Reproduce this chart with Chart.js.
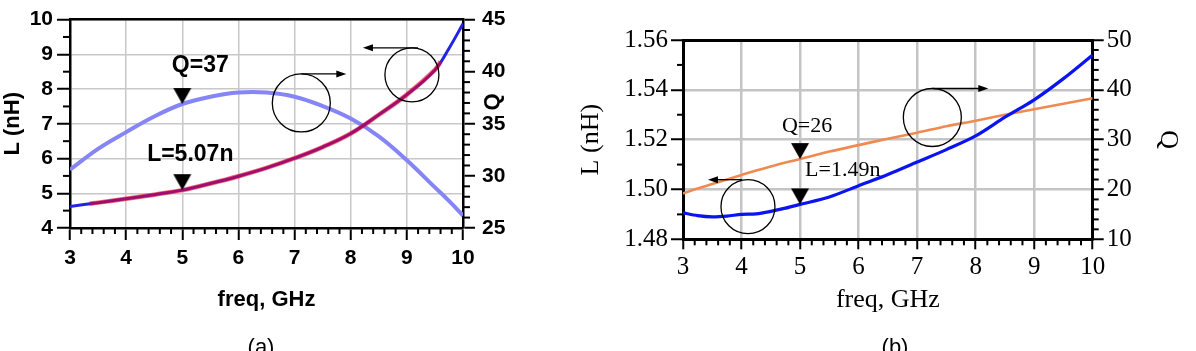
<!DOCTYPE html>
<html>
<head>
<meta charset="utf-8">
<script src="https://cdn.jsdelivr.net/npm/chart.js@4.4.1/dist/chart.umd.min.js"></script>
<style>
  html, body { margin: 0; padding: 0; background: #fff; }
  body { width: 1196px; height: 351px; position: relative; overflow: hidden; }
  #wrapA { position: absolute; left: 0; top: 0; width: 540px; height: 351px; }
  #wrapB { position: absolute; left: 560px; top: 0; width: 636px; height: 351px; }
  .caption { position: absolute; top: 334px; font: 22px "Liberation Sans", Arial, sans-serif; transform: translateX(-50%); }
</style>
</head>
<body>
<div id="wrapA"><canvas id="chartA"></canvas></div>
<div id="wrapB"><canvas id="chartB"></canvas></div>
<div class="caption" style="left:261px">(a)</div>
<div class="caption" style="left:895px">(b)</div>
<script>
// ---- (a) data ----
var freqA = [3, 3.5, 4, 4.5, 5, 5.5, 6, 6.5, 7, 7.5, 8, 8.5, 9, 9.5, 9.75, 10];
var qA = [30.6, 32.6, 34.2, 35.7, 36.9, 37.6, 38.0, 38.0, 37.6, 36.7, 35.5, 33.8, 31.5, 28.9, 27.6, 26.2];
var lA = [4.62, 4.73, 4.84, 4.96, 5.09, 5.28, 5.49, 5.73, 6.01, 6.33, 6.72, 7.26, 7.84, 8.55, 9.17, 9.88];
// simulated L (red), shorter range
var freqAsim = [3.35, 3.5, 4, 4.5, 5, 5.5, 6, 6.5, 7, 7.5, 8, 8.5, 9, 9.5, 9.6];
var lAsim = [4.70, 4.73, 4.84, 4.96, 5.09, 5.28, 5.49, 5.73, 6.01, 6.33, 6.72, 7.26, 7.84, 8.55, 8.79];

// ---- (b) data ----
var freqB = [3, 3.25, 3.5, 3.75, 4, 4.25, 4.5, 4.75, 5, 5.5, 6, 6.5, 7, 7.5, 8, 8.5, 9, 9.5, 10];
var lB = [1.4906, 1.4895, 1.4890, 1.4893, 1.4900, 1.4902, 1.4912, 1.4925, 1.4940, 1.4970, 1.5015, 1.5060, 1.5110, 1.5160, 1.5215, 1.5290, 1.5360, 1.5445, 1.5540];
var qB = [19.2, 20.2, 21.1, 22.0, 22.9, 23.8, 24.6, 25.4, 26.1, 27.6, 28.9, 30.2, 31.4, 32.7, 33.8, 35.0, 36.1, 37.2, 38.3];

var markFreq = 5;

var fontA = '"Liberation Sans", Arial, sans-serif';
var fontB = '"Liberation Serif", "Times New Roman", serif';

function isMajor(v, step) {
    var r = v / step;
    return Math.abs(r - Math.round(r)) < 1e-6;
}
function pts(xs, ys) {
    return xs.map(function (x, i) { return { x: x, y: ys[i] }; });
}
function valueAt(xs, ys, x) {
    return ys[xs.indexOf(x)];
}

// down triangle whose tip sits at the image centre
function makeMarker() {
    var c = document.createElement('canvas');
    c.width = 20; c.height = 34;
    var g = c.getContext('2d');
    g.fillStyle = '#000';
    g.beginPath(); g.moveTo(1, 1); g.lineTo(19, 1); g.lineTo(10, 17); g.closePath(); g.fill();
    return c;
}
var marker = makeMarker();

function axis(o) {
    var horiz = o.pos === 'bottom';
    return {
        type: 'linear', position: o.pos, min: o.min, max: o.max,
        afterFit: function (s) { if (horiz) s.height = o.size; else s.width = o.size; },
        ticks: {
            stepSize: o.minor, autoSkip: false, maxRotation: 0, minRotation: 0,
            padding: o.pad, color: '#000', font: o.tickFont,
            callback: function (v) {
                if (!isMajor(v, o.major)) return '';
                return o.fmt ? o.fmt(v) : String(Math.round(v));
            }
        },
        grid: {
            drawOnChartArea: o.grid,
            color: function (c) { return c.tick && isMajor(c.tick.value, o.major) ? o.gridColor : 'rgba(0,0,0,0)'; },
            lineWidth: o.gridWidth,
            tickLength: o.tickLen,
            tickWidth: 2,
            tickColor: function (c) { return c.tick && isMajor(c.tick.value, o.major) ? '#000' : 'rgba(0,0,0,0)'; }
        },
        border: { color: '#000', width: o.border },
        title: o.title ? { display: true, text: o.title, color: '#000', font: o.titleFont, padding: o.titlePad } : { display: false }
    };
}

function topAxis(min, max, w) {
    return {
        type: 'linear', position: 'top', min: min, max: max,
        afterFit: function (s) { s.height = 0; },
        ticks: { display: false },
        grid: { display: false, drawTicks: false },
        border: { display: true, color: '#000', width: w }
    };
}

// short minor tick marks, same positions as the scale ticks
function minorTicks(spec) {
    return {
        id: 'minorTicks',
        afterDraw: function (chart) {
            var ctx = chart.ctx, area = chart.chartArea;
            ctx.save();
            ctx.strokeStyle = '#000';
            Object.keys(spec).forEach(function (id) {
                var s = chart.scales[id], m = spec[id];
                ctx.lineWidth = m.width;
                s.ticks.forEach(function (t) {
                    if (isMajor(t.value, m.major)) return;
                    var p = s.getPixelForValue(t.value);
                    ctx.beginPath();
                    if (s.position === 'bottom') { ctx.moveTo(p, area.bottom); ctx.lineTo(p, area.bottom + m.len); }
                    else if (s.position === 'left') { ctx.moveTo(area.left, p); ctx.lineTo(area.left - m.len, p); }
                    else { ctx.moveTo(area.right, p); ctx.lineTo(area.right + m.len, p); }
                    ctx.stroke();
                });
            });
            ctx.restore();
        }
    };
}

// circles with arrows + text notes
function notes(circles, labels) {
    return {
        id: 'notes',
        afterDatasetsDraw: function (chart) {
            var ctx = chart.ctx, xs = chart.scales.x;
            ctx.save();
            ctx.strokeStyle = '#000';
            ctx.fillStyle = '#000';
            circles.forEach(function (c) {
                var cx = xs.getPixelForValue(c.x), cy = chart.scales[c.axis].getPixelForValue(c.y);
                ctx.lineWidth = 1.3;
                ctx.beginPath(); ctx.arc(cx, cy, c.r, 0, Math.PI * 2); ctx.stroke();
                var y0 = cy - c.r, x0 = cx + c.ax, x1 = x0 + c.arrow, dir = c.arrow > 0 ? 1 : -1;
                ctx.beginPath(); ctx.moveTo(x0, y0); ctx.lineTo(x1 - dir * 6, y0); ctx.stroke();
                ctx.beginPath(); ctx.moveTo(x1, y0); ctx.lineTo(x1 - dir * 10, y0 - 3.5); ctx.lineTo(x1 - dir * 10, y0 + 3.5); ctx.closePath(); ctx.fill();
            });
            labels.forEach(function (t) {
                var px = xs.getPixelForValue(t.x) + t.dx, py = chart.scales[t.axis].getPixelForValue(t.y) + t.dy;
                ctx.font = t.font;
                ctx.textAlign = t.align;
                ctx.textBaseline = 'middle';
                ctx.save();
                ctx.translate(px, py);
                if (t.rot) ctx.rotate(t.rot * Math.PI / 180);
                ctx.fillText(t.text, 0, 0);
                ctx.restore();
            });
            ctx.restore();
        }
    };
}

Chart.defaults.animation = false;
Chart.defaults.plugins.legend.display = false;
Chart.defaults.plugins.tooltip.enabled = false;

// ---------- chart (a) ----------
var qA5 = valueAt(freqA, qA, markFreq);
var lA5 = valueAt(freqA, lA, markFreq);
var tickFontA = { family: fontA, size: 21, weight: 'bold' };
var titleFontA = { family: fontA, size: 22, weight: 'bold' };

new Chart(document.getElementById('chartA'), {
    type: 'line',
    data: {
        datasets: [
            { data: [{ x: markFreq, y: qA5 }, { x: markFreq, y: lA5 }].slice(0, 1), yAxisID: 'yR', showLine: false, pointStyle: marker, pointRadius: 10, order: 0 },
            { data: [{ x: markFreq, y: lA5 }], yAxisID: 'y', showLine: false, pointStyle: marker, pointRadius: 10, order: 0 },
            { data: pts(freqAsim, lAsim), yAxisID: 'y', borderColor: 'rgba(240,0,30,0.6)', borderWidth: 4.5, pointRadius: 0, tension: 0.4, order: 1 },
            { data: pts(freqA, lA), yAxisID: 'y', borderColor: '#2323e6', borderWidth: 3, pointRadius: 0, tension: 0.4, order: 2 },
            { data: pts(freqA, qA), yAxisID: 'yR', borderColor: '#8585f5', borderWidth: 4, pointRadius: 0, tension: 0.4, order: 3 }
        ]
    },
    options: {
        responsive: true, maintainAspectRatio: false, devicePixelRatio: 1,
        layout: { padding: { top: 16, left: 0, right: 0, bottom: 0 } },
        scales: {
            x: axis({ pos: 'bottom', min: 3, max: 10, minor: 0.2, major: 1, size: 123, pad: 6, tickLen: 12, border: 2.5,
                grid: true, gridColor: '#c8c8c8', gridWidth: 1.5, tickFont: tickFontA,
                title: 'freq, GHz', titleFont: titleFontA, titlePad: { top: 0, bottom: 38 } }),
            xTop: topAxis(3, 10, 2.5),
            y: axis({ pos: 'left', min: 4, max: 10, minor: 0.5, major: 1, size: 70, pad: 4, tickLen: 13, border: 2.5,
                grid: true, gridColor: '#c8c8c8', gridWidth: 1.5, tickFont: tickFontA,
                title: 'L (nH)', titleFont: titleFontA, titlePad: { top: 0, bottom: 0 } }),
            yR: axis({ pos: 'right', min: 25, max: 45, minor: 1, major: 5, size: 77, pad: 7, tickLen: 12, border: 2.5,
                grid: false, gridColor: '#c8c8c8', gridWidth: 1.5, tickFont: tickFontA })
        }
    },
    plugins: [
        minorTicks({ x: { major: 1, len: 6, width: 2 }, y: { major: 1, len: 7, width: 2 }, yR: { major: 5, len: 7, width: 2 } }),
        notes(
            [
                { x: 7.12, y: 7.60, axis: 'y', r: 29, ax: 0, arrow: 45 },
                { x: 9.09, y: 8.41, axis: 'y', r: 27, ax: 6, arrow: -55 }
            ],
            [
                { text: 'Q=37', x: markFreq, y: qA5, axis: 'yR', dx: 18, dy: -38, align: 'center', font: 'bold 23px ' + fontA },
                { text: 'L=5.07n', x: markFreq, y: lA5, axis: 'y', dx: 8, dy: -35, align: 'center', font: 'bold 23px ' + fontA },
                { text: 'Q', x: 10, y: 37.1, axis: 'yR', dx: 30, dy: 0, align: 'center', rot: -90, font: 'bold 22px ' + fontA }
            ]
        )
    ]
});

// ---------- chart (b) ----------
var qB5 = valueAt(freqB, qB, markFreq);
var lB5 = valueAt(freqB, lB, markFreq);
var tickFontB = { family: fontB, size: 25 };
var titleFontB = { family: fontB, size: 26 };

new Chart(document.getElementById('chartB'), {
    type: 'line',
    data: {
        datasets: [
            { data: [{ x: markFreq, y: qB5 }], yAxisID: 'yR', showLine: false, pointStyle: marker, pointRadius: 10, order: 0 },
            { data: [{ x: markFreq, y: lB5 }], yAxisID: 'y', showLine: false, pointStyle: marker, pointRadius: 10, order: 0 },
            { data: pts(freqB, lB), yAxisID: 'y', borderColor: '#0a14f0', borderWidth: 3.2, pointRadius: 0, tension: 0.3, order: 1 },
            { data: pts(freqB, qB), yAxisID: 'yR', borderColor: '#f08a50', borderWidth: 2.6, pointRadius: 0, tension: 0.3, order: 2 }
        ]
    },
    options: {
        responsive: true, maintainAspectRatio: false, devicePixelRatio: 1,
        layout: { padding: { top: 40, left: 0, right: 0, bottom: 0 } },
        scales: {
            x: axis({ pos: 'bottom', min: 3, max: 10, minor: 0.2, major: 1, size: 111.7, pad: 3, tickLen: 10, border: 3,
                grid: true, gridColor: '#c4c4c4', gridWidth: 2.5, tickFont: tickFontB,
                title: 'freq, GHz', titleFont: titleFontB, titlePad: { top: 0, bottom: 35 } }),
            xTop: topAxis(3, 10, 3),
            y: axis({ pos: 'left', min: 1.48, max: 1.56, minor: 0.01, major: 0.02, size: 123, pad: 3, tickLen: 12, border: 3,
                grid: true, gridColor: '#c4c4c4', gridWidth: 2.5, tickFont: tickFontB, fmt: function (v) { return v.toFixed(2); },
                title: 'L (nH)', titleFont: titleFontB, titlePad: { top: 16, bottom: 0 } }),
            yR: axis({ pos: 'right', min: 10, max: 50, minor: 2, major: 10, size: 103.3, pad: 3, tickLen: 11, border: 3,
                grid: false, gridColor: '#c4c4c4', gridWidth: 2.5, tickFont: tickFontB,
                title: 'Q', titleFont: titleFontB, titlePad: { top: 13, bottom: 0 } })
        }
    },
    plugins: [
        minorTicks({ x: { major: 1, len: 6, width: 2 }, y: { major: 0.02, len: 6, width: 2 }, yR: { major: 10, len: 6, width: 2 } }),
        notes(
            [
                { x: 4.11, y: 1.4931, axis: 'y', r: 27, ax: -6, arrow: -34 },
                { x: 7.26, y: 1.5289, axis: 'y', r: 29, ax: 0, arrow: 56 }
            ],
            [
                { text: 'Q=26', x: markFreq, y: qB5, axis: 'yR', dx: 7, dy: -33, align: 'center', font: '22px ' + fontB },
                { text: 'L=1.49n', x: markFreq, y: lB5, axis: 'y', dx: 5, dy: -34, align: 'left', font: '22px ' + fontB }
            ]
        )
    ]
});
</script>
</body>
</html>
